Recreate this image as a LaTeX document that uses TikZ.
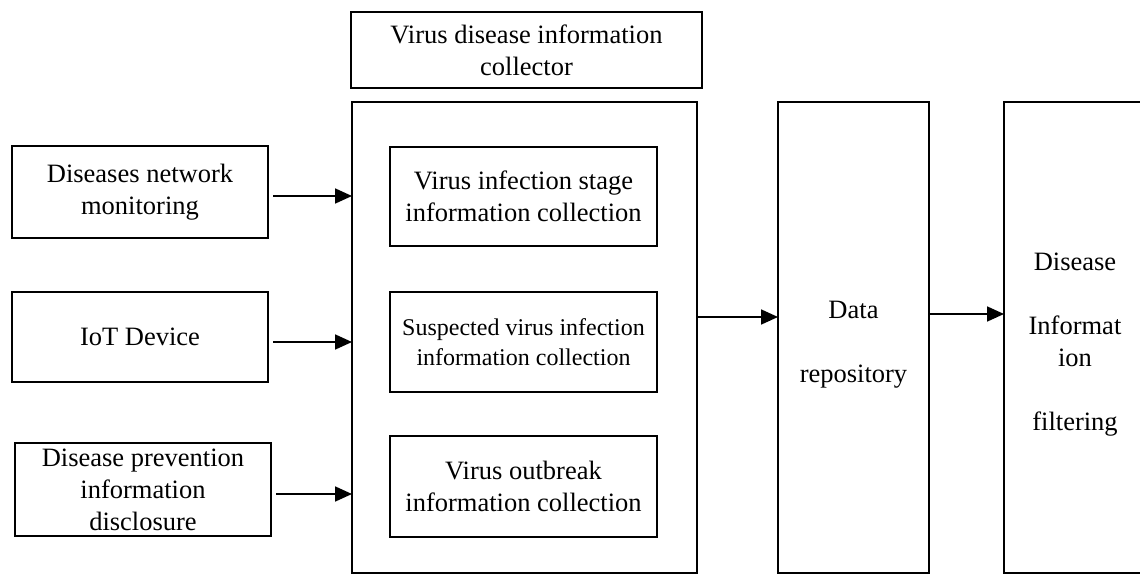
\documentclass[tikz,border=0pt]{standalone}
\usepackage{fontspec}
\setmainfont{Liberation Serif}
\usetikzlibrary{arrows.meta}
\begin{document}
\begin{tikzpicture}[x=1pt,y=-1pt,
  box/.style={draw, line width=1.8pt, inner sep=0pt, outer sep=0pt, align=center,
    font=\fontsize{26.5}{32}\selectfont},
  tall/.style={box, minimum height=471pt},
  inlabel/.style={align=center, font=\fontsize{26.5}{32}\selectfont, yshift=-7pt},
  arr/.style={line width=1.8pt, -{Triangle[length=17pt,width=15pt]}}]
\clip (0,0) rectangle (1140,575);
\fill[white] (0,0) rectangle (1140,575);

% collector block
\node[box, minimum width=351pt, minimum height=76pt] (title) at (526.5,50)
  {Virus disease information\\collector};
\node[box, minimum width=345pt, minimum height=471pt] (coll) at (524.5,337.5) {};
\node[box, minimum width=267pt, minimum height=99pt] (in1) at (523.5,196.5)
  {Virus infection stage\\information collection};
\node[box, minimum width=267pt, minimum height=100pt, font=\fontsize{24}{30}\selectfont] (in2) at (523.5,342)
  {Suspected virus infection\\information collection};
\node[box, minimum width=267pt, minimum height=101pt] (in3) at (523.5,486.5)
  {Virus outbreak\\information collection};

% sources
\node[box, minimum width=256pt, minimum height=92pt] (src1) at (140,192)
  {Diseases network\\monitoring};
\node[box, minimum width=256pt, minimum height=90pt] (src2) at (140,337)
  {IoT Device};
\node[box, minimum width=256pt, minimum height=93pt] (src3) at (143,489.5)
  {Disease prevention\\information\\disclosure};

% storage and filtering
\node[tall, minimum width=151pt,
  label={[inlabel, name=repotext]center:Data\\[32pt]repository}] (repo) at (853.5,337.5) {};
\node[tall, minimum width=142pt,
  label={[inlabel, name=filttext]center:Disease\\[32pt]Informat\\ion\\[32pt]filtering}] (filt) at (1075,337.5) {};

% connectors
\draw[arr] ([xshift=5pt]src1.east |- 0,196) -- (coll.west |- 0,196);
\draw[arr] ([xshift=5pt]src2.east |- 0,342) -- (coll.west |- 0,342);
\draw[arr] ([xshift=5pt]src3.east |- 0,494) -- (coll.west |- 0,494);
\draw[arr] (coll.east |- 0,317) -- (repo.west |- 0,317);
\draw[arr] (repo.east |- 0,314) -- (filt.west |- 0,314);
\end{tikzpicture}
\end{document}
